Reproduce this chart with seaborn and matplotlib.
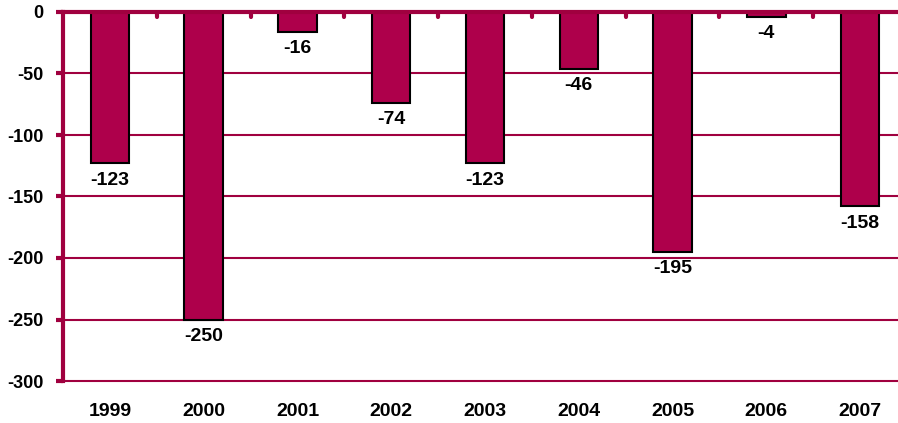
import matplotlib
matplotlib.use("Agg")
import matplotlib.pyplot as plt
import seaborn as sns
import pandas as pd
import numpy as np

years = ["1999", "2000", "2001", "2002", "2003", "2004", "2005", "2006", "2007"]
values = [-123, -250, -16, -74, -123, -46, -195, -4, -158]
yticks = [0, -50, -100, -150, -200, -250, -300]

sns.set_theme(style="white")
plt.rcParams['font.family'] = ['Liberation Sans', 'DejaVu Sans']
plt.rcParams['text.color'] = 'black'
plt.rcParams['xtick.color'] = 'black'
plt.rcParams['ytick.color'] = 'black'

bar_color = "#AE004B"
line_color = "#A0003F"

fig = plt.figure(figsize=(8.98, 4.23), dpi=100)
ax = fig.add_axes([63/898, 1-381/423, 844/898, 369/423])

df = pd.DataFrame({"year": years, "value": values})
sns.barplot(data=df, x="year", y="value", color=bar_color, saturation=1,
            width=0.41, edgecolor="black", linewidth=1.5, ax=ax, zorder=3)

ax.set_ylim(-300, 0)
ax.set_xlim(-0.5, len(years) - 0.5)
ax.set_yticks(yticks)
ax.set_yticklabels([str(t) for t in yticks], fontsize=13, fontweight="bold", color="black")
ax.set_xticks(range(len(years)))
ax.set_xticklabels(years, fontsize=14, fontweight="bold", color="black")
ax.set_xlabel("")
ax.set_ylabel("")

for t in yticks[1:]:
    ax.axhline(t, color=line_color, lw=1.5, zorder=1, clip_on=False)

for s in ["right", "bottom"]:
    ax.spines[s].set_visible(False)
ax.spines["top"].set_color(line_color)
ax.spines["top"].set_linewidth(3)
ax.spines["top"].set_zorder(4)
ax.spines["left"].set_color(line_color)
ax.spines["left"].set_linewidth(3)

ax.tick_params(axis="y", length=5, width=3, color=line_color, left=True, pad=9)
ax.tick_params(axis="x", length=0, pad=16)

# category boundary ticks at the top
for k in range(1, len(years)):
    ax.plot([k - 0.5, k - 0.5], [0, -4], color=line_color, lw=3,
            solid_capstyle="round", zorder=5, clip_on=False)

for i, v in enumerate(values):
    ax.annotate(str(v), (i, v), xytext=(0, -6), textcoords="offset points",
                ha="center", va="top", fontsize=14, fontweight="bold",
                color="black", zorder=6)

fig.savefig("out.png", dpi=100)
